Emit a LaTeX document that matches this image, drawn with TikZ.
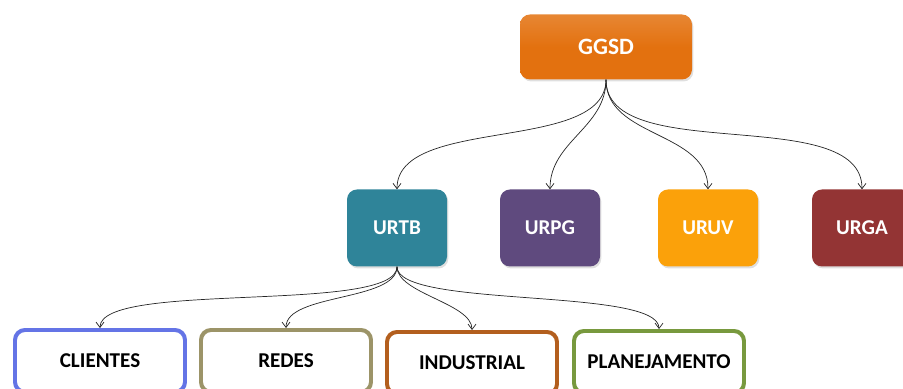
\documentclass[tikz,border=0pt]{standalone}
\usepackage{fontspec}
\setmainfont{Carlito}
\usetikzlibrary{arrows.meta,shadows}
\definecolor{ggsdorange}{HTML}{E3710F}
\definecolor{urtbteal}{HTML}{2F8499}
\definecolor{urpgpurple}{HTML}{5F4A7E}
\definecolor{uruvyellow}{HTML}{FBA10A}
\definecolor{urgared}{HTML}{933434}
\definecolor{clientesblue}{HTML}{6474E6}
\definecolor{redeskhaki}{HTML}{9C9468}
\definecolor{industrialbrown}{HTML}{B35F1E}
\definecolor{planejgreen}{HTML}{78993E}
\tikzset{
  topbox/.style={rounded corners=3mm, minimum width=5.16cm, minimum height=1.95cm, align=center,
    text=white, font=\fontsize{20}{24}\selectfont\bfseries, drop shadow={opacity=0.25,shadow xshift=0.4mm,shadow yshift=-0.6mm}},
  unitbox/.style={rounded corners=3mm, minimum width=3.0cm, minimum height=2.31cm, align=center,
    text=white, font=\fontsize{18}{22}\selectfont\bfseries, drop shadow={opacity=0.25,shadow xshift=0.4mm,shadow yshift=-0.6mm}},
  areabox/.style={draw, line width=3.4pt, rounded corners=3mm, fill=white, minimum width=5.1cm,
    minimum height=1.86cm, align=center, font=\fontsize{18}{22}\selectfont\bfseries},
  orgarrow/.style={-{Straight Barb[length=1.6mm,width=2.4mm]}, line width=0.6pt, draw=black!85, out=-90, in=90}
}
\begin{document}
\begin{tikzpicture}
\clip (0,0) rectangle (27.09,11.67);
\node[topbox, top color=ggsdorange!85!white, bottom color=ggsdorange, middle color=ggsdorange] (ggsd) at (18.18,10.26) {GGSD};
\node[unitbox, fill=urtbteal] (urtb) at (11.91,4.83) {URTB};
\node[unitbox, fill=urpgpurple] (urpg) at (16.5,4.83) {URPG};
\node[unitbox, fill=uruvyellow] (uruv) at (21.24,4.83) {URUV};
\node[unitbox, fill=urgared] (urga) at (25.86,4.83) {URGA};
\node[areabox, draw=clientesblue] (clientes) at (3.0,0.84) {CLIENTES};
\node[areabox, draw=redeskhaki] (redes) at (8.58,0.84) {REDES};
\node[areabox, draw=industrialbrown] (industrial) at (14.16,0.78) {INDUSTRIAL};
\node[areabox, draw=planejgreen] (planejamento) at (19.77,0.81) {PLANEJAMENTO};
% ligacoes
\draw[orgarrow, looseness=0.8] (ggsd.south) to (urtb.north);
\draw[orgarrow] (ggsd.south) to (urpg.north);
\draw[orgarrow] (ggsd.south) to (uruv.north);
\draw[orgarrow, looseness=0.8] (ggsd.south) to (urga.north);
\draw[orgarrow, looseness=0.4] (urtb.south) to (clientes.north);
\draw[orgarrow, looseness=0.7] (urtb.south) to (redes.north);
\draw[orgarrow, looseness=0.7] (urtb.south) to (industrial.north);
\draw[orgarrow, looseness=0.4] (urtb.south) to (planejamento.north);
\end{tikzpicture}
\end{document}
